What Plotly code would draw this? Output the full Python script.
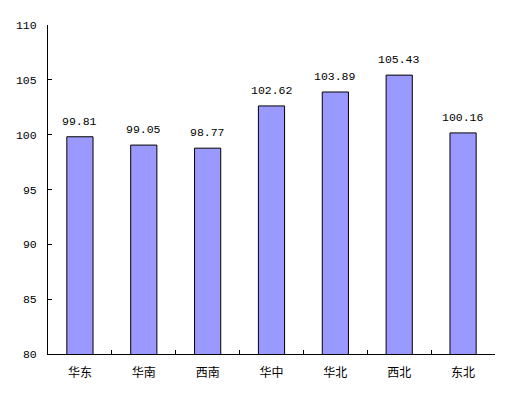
import plotly.graph_objects as go

categories = ["华东", "华南", "西南", "华中", "华北", "西北", "东北"]
values = [99.81, 99.05, 98.77, 102.62, 103.89, 105.43, 100.16]
value_labels = ["99.81", "99.05", "98.77", "102.62", "103.89", "105.43", "100.16"]
y_ticks = [80, 85, 90, 95, 100, 105, 110]

cjk_font = "Noto Sans CJK SC, DejaVu Sans, sans-serif"
num_font = "Liberation Mono, DejaVu Sans Mono, monospace"

fig = go.Figure(go.Bar(
    x=categories,
    y=values,
    marker=dict(color="#9999FF", line=dict(color="black", width=1)),
    width=0.41,
    hoverinfo="x+y",
))

for c, v, t in zip(categories, values, value_labels):
    fig.add_annotation(
        x=c, y=v, text=t, showarrow=False,
        yanchor="bottom", yshift=7,
        font=dict(size=11.5, color="black", family=num_font),
    )

fig.update_layout(
    width=503, height=390,
    margin=dict(l=40, r=16, t=17, b=44),
    plot_bgcolor="white", paper_bgcolor="white",
    showlegend=False,
    font=dict(family=cjk_font, size=12, color="black"),
)
fig.update_xaxes(
    showline=True, linecolor="black", linewidth=1,
    ticks="inside", ticklen=4, tickcolor="black", tickson="boundaries",
    showgrid=False, ticklabelstandoff=8, automargin=False,
    tickfont=dict(size=12, family=cjk_font),
)
fig.update_yaxes(
    range=[80, 110], tickvals=y_ticks,
    showline=True, linecolor="black", linewidth=1,
    ticks="inside", ticklen=4, tickcolor="black",
    showgrid=False, zeroline=False, ticklabelstandoff=8, automargin=False,
    tickfont=dict(size=11.5, family=num_font),
)

fig.write_html("out.html")
